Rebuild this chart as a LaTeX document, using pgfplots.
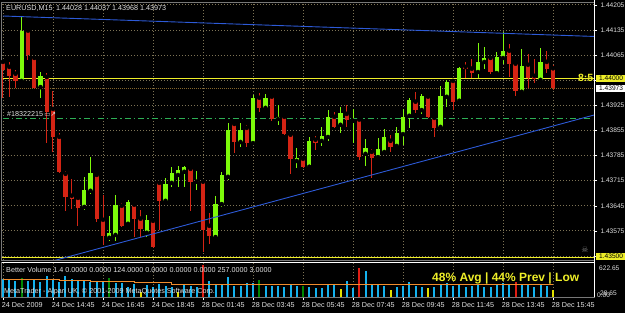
\documentclass[border=0pt]{standalone}
\usepackage{pgfplots}
\pgfplotsset{compat=1.18}
\usepackage{pgfplotstable}
\usepackage{fontspec}
\setmainfont{Liberation Sans}
\newfontfamily\dejavu{DejaVu Sans}
\definecolor{gridcol}{RGB}{125,115,85}
\definecolor{framegray}{RGB}{120,120,120}
\definecolor{upgreen}{RGB}{125,250,10}
\definecolor{dnred}{RGB}{212,36,20}
\definecolor{tlblue}{RGB}{45,90,215}
\definecolor{hlyellow}{RGB}{238,238,40}
\definecolor{dashgreen}{RGB}{45,175,85}
\definecolor{bidcol}{RGB}{130,100,45}
\definecolor{volblue}{RGB}{20,178,238}
\definecolor{volgreen}{RGB}{0,135,0}
\definecolor{volyellow}{RGB}{225,225,0}
\definecolor{volred}{RGB}{225,30,20}
\definecolor{maorange}{RGB}{240,140,45}
\definecolor{txt}{RGB}{225,225,225}
\newcommand{\mtfont}{\fontsize{7.2}{8.5}\selectfont}
\newcommand{\pxfont}{\fontsize{6.6}{8}\selectfont}
\tikzset{mtgrid/.style={gridcol, line width=0.9pt, dash pattern=on 1pt off 2pt}}

\pgfplotstableread{
i O H L C
3 1.43993 1.44174 1.43988 1.44133
6 1.43976 1.44018 1.43946 1.44007
13 1.43642 1.43726 1.43634 1.43690
14 1.43687 1.43781 1.43678 1.43737
17 1.43556 1.43618 1.43547 1.43570
18 1.43564 1.43676 1.43547 1.43648
20 1.43595 1.43662 1.43592 1.43656
23 1.43570 1.43620 1.43558 1.43606
26 1.43659 1.43723 1.43653 1.43706
27 1.43709 1.43754 1.43698 1.43737
28 1.43731 1.43756 1.43698 1.43745
29 1.43740 1.43756 1.43698 1.43754
31 1.43712 1.43742 1.43690 1.43715
34 1.43558 1.43673 1.43556 1.43650
35 1.43650 1.43740 1.43642 1.43731
36 1.43726 1.43876 1.43717 1.43857
38 1.43823 1.43876 1.43809 1.43857
40 1.43820 1.43954 1.43818 1.43946
42 1.43918 1.43957 1.43912 1.43946
44 1.43887 1.43926 1.43871 1.43893
47 1.43770 1.43807 1.43751 1.43779
49 1.43754 1.43837 1.43751 1.43826
51 1.43826 1.43865 1.43812 1.43840
52 1.43837 1.43912 1.43826 1.43893
54 1.43871 1.43921 1.43848 1.43904
56 1.43882 1.43915 1.43820 1.43885
58 1.43790 1.43832 1.43756 1.43807
60 1.43781 1.43834 1.43779 1.43804
61 1.43795 1.43860 1.43795 1.43837
63 1.43812 1.43865 1.43809 1.43848
64 1.43845 1.43915 1.43815 1.43893
65 1.43896 1.43946 1.43862 1.43940
67 1.43912 1.43957 1.43901 1.43951
70 1.43865 1.43979 1.43862 1.43951
71 1.43949 1.43996 1.43921 1.43990
73 1.43938 1.44032 1.43932 1.44029
76 1.44018 1.44099 1.44002 1.44046
77 1.44046 1.44088 1.44027 1.44057
79 1.44015 1.44074 1.44010 1.44060
80 1.44057 1.44130 1.44041 1.44077
83 1.43963 1.44082 1.43960 1.44035
86 1.43996 1.44085 1.43990 1.44046
}\upbars

\pgfplotstableread{
i O H L C
0 1.44046 1.44052 1.43946 1.44024
1 1.44032 1.44046 1.43949 1.44007
2 1.44013 1.44024 1.43974 1.43993
4 1.44133 1.44135 1.44052 1.44066
5 1.44057 1.44060 1.43971 1.43974
7 1.44004 1.44015 1.43820 1.43907
8 1.43915 1.43965 1.43795 1.43837
9 1.43837 1.43848 1.43737 1.43740
10 1.43734 1.43742 1.43631 1.43670
11 1.43673 1.43720 1.43637 1.43664
12 1.43667 1.43673 1.43589 1.43639
15 1.43731 1.43734 1.43600 1.43609
16 1.43606 1.43676 1.43536 1.43561
19 1.43645 1.43653 1.43586 1.43589
21 1.43648 1.43650 1.43558 1.43609
22 1.43609 1.43634 1.43558 1.43581
24 1.43603 1.43606 1.43528 1.43531
25 1.43709 1.43712 1.43578 1.43659
30 1.43748 1.43750 1.43631 1.43712
32 1.43712 1.43717 1.43517 1.43578
33 1.43589 1.43625 1.43539 1.43561
37 1.43873 1.43876 1.43793 1.43823
39 1.43862 1.43871 1.43809 1.43820
41 1.43946 1.43960 1.43907 1.43918
43 1.43949 1.43951 1.43882 1.43887
45 1.43893 1.43896 1.43843 1.43845
46 1.43843 1.43845 1.43734 1.43776
48 1.43776 1.43781 1.43751 1.43754
50 1.43829 1.43840 1.43801 1.43820
53 1.43893 1.43907 1.43862 1.43865
55 1.43901 1.43926 1.43865 1.43885
57 1.43885 1.43887 1.43773 1.43781
59 1.43795 1.43804 1.43723 1.43779
62 1.43826 1.43843 1.43795 1.43809
66 1.43935 1.43963 1.43904 1.43912
68 1.43949 1.43954 1.43890 1.43893
69 1.43890 1.43892 1.43837 1.43862
72 1.43993 1.43996 1.43912 1.43935
74 1.44032 1.44046 1.44002 1.44027
75 1.44027 1.44055 1.44002 1.44015
78 1.44057 1.44060 1.44013 1.44018
81 1.44077 1.44096 1.44004 1.44041
82 1.44041 1.44046 1.43951 1.43965
84 1.44038 1.44068 1.43974 1.44002
85 1.44007 1.44055 1.43988 1.43999
87 1.44046 1.44077 1.44015 1.44027
88 1.44028 1.44037 1.43968 1.43973
}\downbars

\pgfplotstableread{
i v
0 362
1 342
2 321
4 321
5 342
6 307
7 428
8 342
9 301
10 428
11 362
12 327
13 327
14 301
15 327
16 307
18 275
19 275
20 207
21 255
23 241
24 207
25 255
26 227
27 207
29 255
30 227
31 207
33 321
34 241
35 255
36 408
37 227
38 227
39 275
40 275
42 227
43 227
44 227
45 207
46 255
47 227
49 207
50 180
51 187
52 241
53 241
55 321
56 187
58 522
59 241
60 241
61 227
63 207
64 227
65 307
66 227
67 207
69 207
70 255
71 275
72 227
73 255
74 207
75 227
76 255
77 207
78 207
79 241
80 275
81 255
83 255
84 241
85 207
86 255
87 227
}\volblue

\pgfplotstableread{
i v
3 388
17 388
41 342
48 227
}\volgreen

\pgfplotstableread{
i v
22 106
28 106
54 155
62 141
68 175
88 141
}\volyellow

\pgfplotstableread{
i v
32 643
57 577
82 307
}\volred

\pgfplotstableread{
i v
0 355
9 330
14 310
21 285
27 255
88 255
}\volma

\begin{document}
\begin{tikzpicture}
\useasboundingbox (0,0) rectangle (625pt,313pt);
\fill[black] (0,0) rectangle (625pt,313pt);

% ---------- main price panel ----------
\begin{axis}[
  at={(1.75pt,53pt)}, anchor=south west, scale only axis,
  width=592.25pt, height=258pt,
  xmin=-0.2, xmax=94.56, ymin=1.43494, ymax=1.44213,
  clip mode=individual,
  axis line style={draw=framegray, line width=0.8pt},
  xtick=\empty,
  ytick={1.43505,1.43575,1.43645,1.43715,1.43785,1.43855,1.43925,1.43995,1.44065,1.44135,1.44205},
  yticklabels={,1.43575,1.43645,1.43715,1.43785,1.43855,1.43925,,1.44065,1.44135,1.44205},
  yticklabel pos=right, ytick pos=right, tick align=outside, major tick length=3pt,
  ytick style={draw=white, line width=0.6pt},
  yticklabel style={font=\pxfont, text=txt},
  ymajorgrids,
  grid style={mtgrid},
]
\pgfplotsinvokeforeach{0,8,...,88}{\draw[mtgrid] (axis cs:#1,1.43494) -- (axis cs:#1,1.44213);}
\addplot[bidcol, line width=0.8pt, dash pattern=on 1pt off 1pt] coordinates {(-0.2,1.43973) (94.56,1.43973)};
\addplot[hlyellow, line width=0.9pt] coordinates {(-0.2,1.44) (94.56,1.44)};
\addplot[hlyellow, line width=0.9pt] coordinates {(-0.2,1.435) (94.56,1.435)};
\addplot[dashgreen, line width=0.8pt, dash pattern=on 6pt off 3pt on 1.5pt off 3pt] coordinates {(0,1.43889) (94.2,1.43889)};

% wicks
\addplot[only marks, mark=none, error bars/.cd, y dir=both, y explicit, error mark=none,
  error bar style={draw=upgreen, line width=1pt}]
  table[x=i, y=O, y error plus expr=\thisrow{H}-\thisrow{O}, y error minus expr=\thisrow{O}-\thisrow{L}] {\upbars};
\addplot[only marks, mark=none, error bars/.cd, y dir=both, y explicit, error mark=none,
  error bar style={draw=dnred, line width=1pt}]
  table[x=i, y=O, y error plus expr=\thisrow{H}-\thisrow{O}, y error minus expr=\thisrow{O}-\thisrow{L}] {\downbars};
% bodies
\addplot[only marks, mark=none, error bars/.cd, y dir=plus, y explicit, error mark=none,
  error bar style={draw=upgreen, line width=4.2pt}]
  table[x=i, y=O, y error plus expr=\thisrow{C}-\thisrow{O}] {\upbars};
\addplot[only marks, mark=none, error bars/.cd, y dir=minus, y explicit, error mark=none,
  error bar style={draw=dnred, line width=4.2pt}]
  table[x=i, y=O, y error minus expr=\thisrow{O}-\thisrow{C}] {\downbars};

% trend lines
\addplot[tlblue, line width=0.9pt] coordinates {(0,1.44174) (94.56,1.44117)};
\addplot[tlblue, line width=0.9pt] coordinates {(0,1.43454) (94.56,1.43898)};

% labels
\node[anchor=west, fill=hlyellow, text=black, font=\pxfont, inner xsep=3pt, inner ysep=1.2pt] at (axis cs:94.56,1.44000) [xshift=2pt] {1.44000};
\node[anchor=west, fill=white, text=black, font=\pxfont, inner xsep=3pt, inner ysep=1.2pt] at (axis cs:94.56,1.43973) [xshift=2pt] {1.43973};
\node[anchor=west, fill=hlyellow, text=black, font=\pxfont, inner xsep=3pt, inner ysep=1.2pt] at (axis cs:94.56,1.43505) [xshift=2pt] {1.43500};
\node[anchor=east, text=hlyellow, font=\fontsize{10.5}{11}\selectfont\bfseries, inner sep=0.5pt] at (axis cs:94.56,1.44002) {8:5};
\node[anchor=west, text=txt, font=\mtfont, inner sep=0pt] at (axis cs:0.64,1.43900) {\#18322215\,{\dejavu\fontsize{6.5}{7}\selectfont ▭↗}};
\node[text=gray, font=\dejavu\fontsize{8}{9}\selectfont, inner sep=0pt] at (axis cs:93.1,1.43522) {☠};
\end{axis}

% ---------- volume panel ----------
\begin{axis}[
  at={(1.75pt,16pt)}, anchor=south west, scale only axis,
  width=592.25pt, height=35pt,
  xmin=-0.2, xmax=94.56, ymin=0, ymax=703,
  clip mode=individual,
  axis line style={draw=framegray, line width=0.8pt},
  ytick=\empty,
  xtick={0,8,...,88},
  xticklabels={24 Dec 2009,24 Dec 14:45,24 Dec 16:45,24 Dec 18:45,28 Dec 01:45,28 Dec 03:45,28 Dec 05:45,28 Dec 07:45,28 Dec 09:45,28 Dec 11:45,28 Dec 13:45,28 Dec 15:45},
  xtick pos=left, tick align=outside, major tick length=3pt,
  xtick style={draw=white, line width=0.6pt},
  xticklabel style={anchor=north west, inner sep=0pt, xshift=-1.3pt, yshift=-2.5pt, font=\mtfont, text=txt},
]
\pgfplotsinvokeforeach{0,8,...,88}{\draw[mtgrid] (axis cs:#1,0) -- (axis cs:#1,703);}
\addplot[ycomb, draw=volblue, line width=2pt] table[x=i, y=v] {\volblue};
\addplot[ycomb, draw=volgreen, line width=2pt] table[x=i, y=v] {\volgreen};
\addplot[ycomb, draw=volyellow, line width=2pt] table[x=i, y=v] {\volyellow};
\addplot[ycomb, draw=volred, line width=2pt] table[x=i, y=v] {\volred};
\addplot[const plot, draw=maorange, line width=1.2pt] table[x=i, y=v] {\volma};
\end{axis}

% ---------- texts and separators ----------
\draw[white, line width=0.8pt] (1.75pt,51pt) -- (594pt,51pt);
\draw[white, line width=0.8pt] (594pt,16pt) -- (594pt,313pt);
\node[anchor=west, text=txt, font=\mtfont, inner sep=0pt] at (6pt,305pt) {EURUSD,M15\hspace{3.5pt}1.44028 1.44037 1.43968 1.43973};
\node[anchor=west, text=txt, font=\mtfont, inner sep=0pt] at (6pt,43pt) {Better Volume 1.4 0.0000 0.0000 124.0000 0.0000 0.0000 0.0000 257.0000 3.0000};
\node[anchor=west, text=txt, font=\mtfont, inner sep=0pt] at (4pt,21pt) {MetaTrader - Alpari UK, © 2001-2009 MetaQuotes Software Corp.};
\node[anchor=west, text=hlyellow, font=\fontsize{12}{13}\selectfont\bfseries, inner sep=0pt] at (432pt,35pt) {48\% Avg | 44\% Prev | Low};
\node[anchor=west, text=txt, font=\pxfont, inner sep=0pt] at (599pt,45pt) {622.65};
\node[anchor=west, text=txt, font=\pxfont, inner sep=0pt] at (600pt,20pt) {28.65};
\node[anchor=west, text=txt, font=\pxfont, inner sep=0pt] at (597pt,18pt) {0.00};
\end{tikzpicture}
\end{document}
